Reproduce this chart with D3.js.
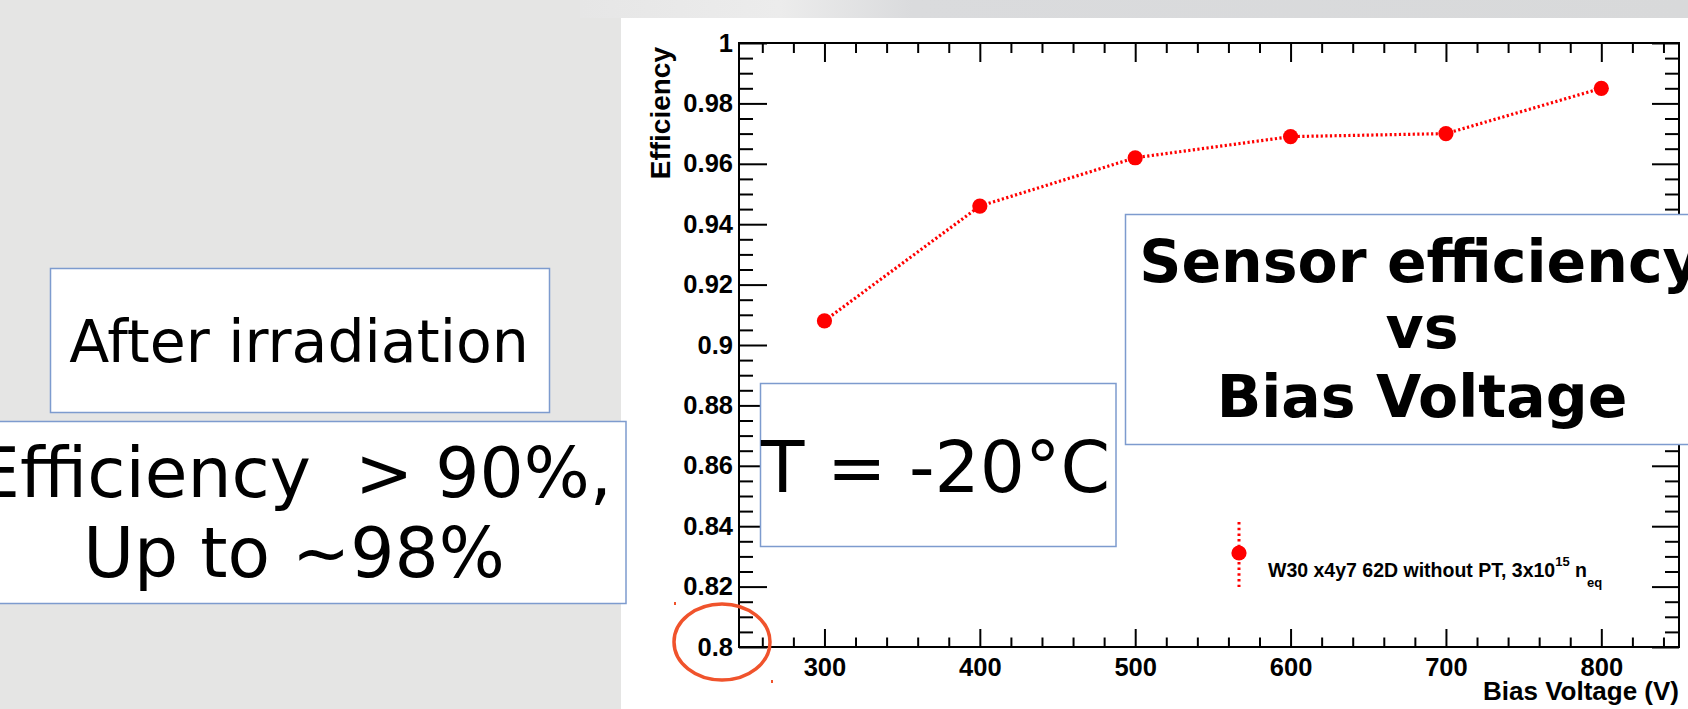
<!DOCTYPE html>
<html>
<head>
<meta charset="utf-8">
<script src="https://cdn.jsdelivr.net/npm/d3@7"></script>
<style>
  body { margin: 0; background: #e5e5e4; }
  svg { display: block; }
  .axis path { display: none; }
  .axis line { stroke: #000; stroke-width: 2; }
  .axis text { font-family: "Liberation Sans", Arial, sans-serif; font-weight: bold; font-size: 25.5px; fill: #000; }
  .box text { font-family: "DejaVu Sans", sans-serif; fill: #000; white-space: pre; }
</style>
</head>
<body>
<div id="chart"></div>
<script>
// Data
var voltages = [300, 400, 500, 600, 700, 800];
var efficiency = [0.908, 0.946, 0.962, 0.969, 0.970, 0.985];

// Tick labels
var xMajorTicks = [300, 400, 500, 600, 700, 800];
var yMajorTicks = [0.8, 0.82, 0.84, 0.86, 0.88, 0.9, 0.92, 0.94, 0.96, 0.98, 1];

var legendLabel = "W30 x4y7 62D without PT, 3x10";

// Page / frame dimensions
var dims = {
  width: 1688,
  height: 709,
  panelX: 621,
  panelY: 18,
  left: 739,
  right: 1679,
  top: 43,
  bottom: 647
};

var svg = d3.select('#chart')
  .append('svg')
  .attr('width', dims.width)
  .attr('height', dims.height);

// Slide background
var defs = svg.append('defs');
var topGrad = defs.append('linearGradient').attr('id', 'topGrad');
topGrad.append('stop').attr('offset', '0%').attr('stop-color', '#e6e6e6');
topGrad.append('stop').attr('offset', '18%').attr('stop-color', '#ececec');
topGrad.append('stop').attr('offset', '30%').attr('stop-color', '#dadbdd');
topGrad.append('stop').attr('offset', '100%').attr('stop-color', '#d8d9da');

svg.append('rect')
  .attr('width', dims.width).attr('height', dims.height)
  .attr('fill', '#e5e5e4');
svg.append('rect')
  .attr('x', 580).attr('y', 0)
  .attr('width', dims.width - 580).attr('height', dims.panelY)
  .attr('fill', 'url(#topGrad)');

// White plot panel
svg.append('rect')
  .attr('x', dims.panelX).attr('y', dims.panelY)
  .attr('width', dims.width - dims.panelX).attr('height', dims.height - dims.panelY)
  .attr('fill', '#fff');

// Scales
var x = d3.scaleLinear().domain([245, 850]).range([dims.left, dims.right]);
var y = d3.scaleLinear().domain([0.8, 1]).range([dims.bottom, dims.top]);

var xMinor = d3.range(260, 850, 20).filter(function (d) { return d % 100 !== 0; });
var yMinor = d3.range(0, 41).map(function (i) { return 0.8 + i * 0.005; })
  .filter(function (d, i) { return i % 4 !== 0; });

// Axes (ticks point inward, ROOT style)
svg.append('g').attr('class', 'axis')
  .attr('transform', 'translate(0,' + dims.bottom + ')')
  .call(d3.axisBottom(x).tickValues(xMajorTicks).tickSizeInner(-18).tickSizeOuter(0).tickPadding(11).tickFormat(d3.format('d')));
svg.append('g').attr('class', 'axis')
  .attr('transform', 'translate(0,' + dims.bottom + ')')
  .call(d3.axisBottom(x).tickValues(xMinor).tickSizeInner(-9.5).tickSizeOuter(0).tickFormat(''));
svg.append('g').attr('class', 'axis')
  .attr('transform', 'translate(0,' + dims.top + ')')
  .call(d3.axisTop(x).tickValues(xMajorTicks).tickSizeInner(-19).tickSizeOuter(0).tickFormat(''));
svg.append('g').attr('class', 'axis')
  .attr('transform', 'translate(0,' + dims.top + ')')
  .call(d3.axisTop(x).tickValues(xMinor).tickSizeInner(-10).tickSizeOuter(0).tickFormat(''));

svg.append('g').attr('class', 'axis')
  .attr('transform', 'translate(' + dims.left + ',0)')
  .call(d3.axisLeft(y).tickValues(yMajorTicks).tickSizeInner(-28).tickSizeOuter(0).tickPadding(6).tickFormat(d3.format('~g')));
svg.append('g').attr('class', 'axis')
  .attr('transform', 'translate(' + dims.left + ',0)')
  .call(d3.axisLeft(y).tickValues(yMinor).tickSizeInner(-14).tickSizeOuter(0).tickFormat(''));
svg.append('g').attr('class', 'axis')
  .attr('transform', 'translate(' + dims.right + ',0)')
  .call(d3.axisRight(y).tickValues(yMajorTicks).tickSizeInner(-27).tickSizeOuter(0).tickFormat(''));
svg.append('g').attr('class', 'axis')
  .attr('transform', 'translate(' + dims.right + ',0)')
  .call(d3.axisRight(y).tickValues(yMinor).tickSizeInner(-14).tickSizeOuter(0).tickFormat(''));

// Frame
svg.append('rect')
  .attr('x', dims.left).attr('y', dims.top)
  .attr('width', dims.right - dims.left).attr('height', dims.bottom - dims.top)
  .attr('fill', 'none').attr('stroke', '#000').attr('stroke-width', 2);

// Axis titles
svg.append('text')
  .attr('transform', 'translate(670,' + (dims.top + 4) + ') rotate(-90)')
  .attr('text-anchor', 'end')
  .style('font-family', '"Liberation Sans", Arial, sans-serif')
  .style('font-weight', 'bold').style('font-size', '28px')
  .text('Efficiency');
svg.append('text')
  .attr('x', dims.right).attr('y', 700)
  .attr('text-anchor', 'end')
  .style('font-family', '"Liberation Sans", Arial, sans-serif')
  .style('font-weight', 'bold').style('font-size', '26px')
  .text('Bias Voltage (V)');

// Data: dotted red line with markers
var points = voltages.map(function (v, i) { return { v: v, e: efficiency[i] }; });
var line = d3.line()
  .x(function (d) { return x(d.v); })
  .y(function (d) { return y(d.e); });

svg.append('path')
  .datum(points)
  .attr('d', line)
  .attr('fill', 'none')
  .attr('stroke', '#ff0000')
  .attr('stroke-width', 3.2)
  .attr('stroke-dasharray', '2.2,2.4');

svg.selectAll('.dot')
  .data(points)
  .enter().append('circle')
  .attr('class', 'dot')
  .attr('cx', function (d) { return x(d.v); })
  .attr('cy', function (d) { return y(d.e); })
  .attr('r', 7.6)
  .attr('fill', '#ff0000');

// Legend
var legend = svg.append('g').attr('transform', 'translate(1239,553)');
legend.append('line')
  .attr('x1', 0).attr('x2', 0).attr('y1', -31).attr('y2', 34)
  .attr('stroke', '#ff0000').attr('stroke-width', 3).attr('stroke-dasharray', '2.5,3.2');
legend.append('circle').attr('r', 7.6).attr('fill', '#ff0000');

var legendText = svg.append('text')
  .attr('x', 1268).attr('y', 577)
  .style('font-family', '"Liberation Sans", Arial, sans-serif')
  .style('font-weight', 'bold').style('font-size', '19.5px');
legendText.append('tspan').text(legendLabel);
legendText.append('tspan').attr('dy', -11).style('font-size', '13px').text('15');
legendText.append('tspan').attr('dy', 11).text(' n');
legendText.append('tspan').attr('dy', 10).style('font-size', '13px').text('eq');

// Slide text boxes
function textBox(bx, by, bw, bh, lines) {
  var g = svg.append('g').attr('class', 'box');
  g.append('rect')
    .attr('x', bx).attr('y', by).attr('width', bw).attr('height', bh)
    .attr('fill', '#fff').attr('stroke', '#7d9bce').attr('stroke-width', 1.5);
  lines.forEach(function (l) {
    g.append('text')
      .attr('x', l.x).attr('y', l.y)
      .attr('text-anchor', l.anchor || 'middle')
      .style('font-size', l.size + 'px')
      .style('font-weight', l.bold ? 'bold' : 'normal')
      .text(l.t);
  });
}

textBox(50.5, 268.5, 499, 144, [{ t: 'After irradiation', x: 299, y: 362, size: 58.5 }]);
textBox(-40, 421.5, 666, 182, [
  { t: 'Efficiency  > 90%,', x: 294, y: 497, size: 69.5 },
  { t: 'Up to ~98%', x: 294, y: 577, size: 69.5 }
]);
textBox(760.5, 383.5, 355.5, 163, [{ t: 'T = -20°C', x: 761, y: 492, size: 71, anchor: 'start' }]);
textBox(1125.5, 214.5, 600, 230, [
  { t: 'Sensor efficiency', x: 1420, y: 282, size: 58.5, bold: true },
  { t: 'vs', x: 1422, y: 348, size: 58.5, bold: true },
  { t: 'Bias Voltage', x: 1422, y: 417, size: 58.5, bold: true }
]);

// Red ellipse highlighting the 0.8 label
svg.append('ellipse')
  .attr('cx', 722).attr('cy', 642).attr('rx', 48).attr('ry', 38)
  .attr('fill', 'none').attr('stroke', '#f0532c').attr('stroke-width', 3.5);
svg.append('rect').attr('x', 674).attr('y', 602).attr('width', 2).attr('height', 3).attr('fill', '#f0532c');
svg.append('rect').attr('x', 771).attr('y', 680).attr('width', 2).attr('height', 3).attr('fill', '#f0532c');
</script>
</body>
</html>
